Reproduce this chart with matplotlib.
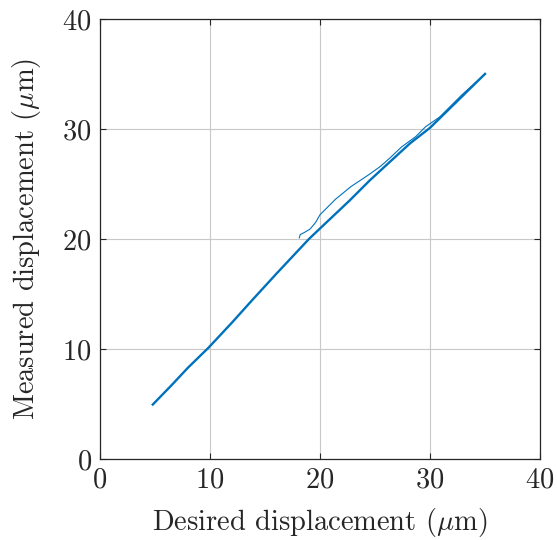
import matplotlib
matplotlib.use("Agg")
import matplotlib.pyplot as plt

plt.rcParams['font.family'] = ['cmr10', 'DejaVu Serif']
plt.rcParams['mathtext.fontset'] = 'cm'
plt.rcParams['axes.formatter.use_mathtext'] = True

# main (thick) ascending/descending trace
main_x = [4.8, 6.5, 8.0, 9.85, 12.0, 13.8, 16.0, 17.5, 19.0, 20.0, 22.7, 24.5, 26.4, 28.2, 30.0, 32.5, 35.0]
main_y = [4.95, 6.7, 8.3, 10.1, 12.4, 14.4, 16.8, 18.4, 20.0, 20.95, 23.5, 25.3, 27.05, 28.7, 30.1, 32.55, 35.0]

# thin upper (hysteresis) branch
branch_x = [18.12, 18.2, 18.6, 19.1, 19.6, 20.0, 20.7, 21.4, 22.8, 24.45, 25.5, 26.4, 27.4, 28.7, 29.6, 30.9, 31.9, 32.9, 33.9, 35.0]
branch_y = [20.1, 20.4, 20.6, 20.9, 21.5, 22.2, 22.9, 23.6, 24.75, 25.85, 26.6, 27.4, 28.35, 29.3, 30.2, 31.1, 32.1, 33.1, 34.0, 35.0]

xticks = [0, 10, 20, 30, 40]
yticks = [0, 10, 20, 30, 40]

fig = plt.figure(figsize=(5.57, 5.40), dpi=100)
ax = fig.add_axes([0.1795, 0.15, 0.79, 0.815])
color = '#0072BD'
ax.plot(branch_x, branch_y, color=color, lw=0.8)
ax.plot(main_x, main_y, color=color, lw=1.7)

ax.set_xlim(0, 40)
ax.set_ylim(0, 40)
ax.set_xticks(xticks)
ax.set_yticks(yticks)
ax.grid(True, color='#c8c8c8', lw=0.8)
ax.set_axisbelow(True)
ax.tick_params(direction='in', length=4, width=0.8, color='#262626',
               top=True, right=True, labelsize=20.5, labelcolor='#262626', pad=6)
for s in ax.spines.values():
    s.set_color('#262626')
    s.set_linewidth(0.9)
ax.set_xlabel(r'Desired displacement ($\mu$m)', fontsize=20.5, color='#262626', labelpad=9)
ax.set_ylabel(r'Measured displacement ($\mu$m)', fontsize=20.5, color='#262626', labelpad=14)
fig.savefig('out.png', dpi=100)
